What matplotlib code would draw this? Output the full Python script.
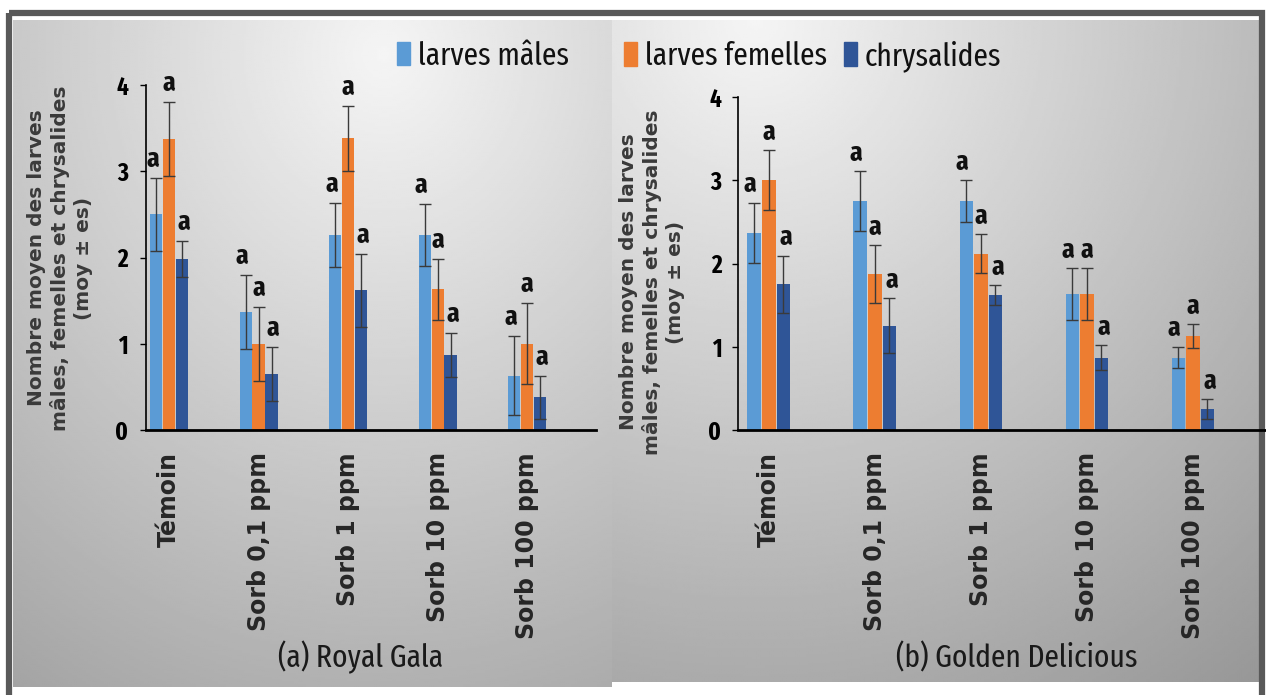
import matplotlib.pyplot as plt
import numpy as np
from matplotlib.patches import Patch, Rectangle

categories = ['Témoin', 'Sorb 0,1 ppm', 'Sorb 1 ppm', 'Sorb 10 ppm', 'Sorb 100 ppm']
series = ['larves mâles', 'larves femelles', 'chrysalides']
colors = ['#5B9BD5', '#ED7D31', '#2F5597']

# (a) Royal Gala
gala_males = [2.50, 1.37, 2.26, 2.26, 0.63]
gala_males_err = [0.42, 0.43, 0.37, 0.36, 0.46]
gala_femelles = [3.37, 1.00, 3.38, 1.63, 1.00]
gala_femelles_err = [0.43, 0.43, 0.38, 0.35, 0.47]
gala_chrys = [1.98, 0.65, 1.62, 0.87, 0.38]
gala_chrys_err = [0.21, 0.31, 0.42, 0.26, 0.25]

# (b) Golden Delicious
golden_males = [2.37, 2.75, 2.75, 1.63, 0.87]
golden_males_err = [0.36, 0.36, 0.25, 0.31, 0.13]
golden_femelles = [3.00, 1.87, 2.12, 1.63, 1.13]
golden_femelles_err = [0.36, 0.35, 0.23, 0.31, 0.14]
golden_chrys = [1.75, 1.25, 1.62, 0.87, 0.25]
golden_chrys_err = [0.34, 0.33, 0.12, 0.15, 0.12]

# statistical group letters
gala_letters = [['a'] * 5, ['a'] * 5, ['a'] * 5]
golden_letters = [['a'] * 5, ['a'] * 5, ['a'] * 5]

ylabel = 'Nombre moyen des larves\nmâles, femelles et chrysalides\n(moy ± es)'
narrow = ['Fira Sans Extra Condensed', 'Fira Sans Condensed', 'DejaVu Sans']

W, H = 1266, 695
fig = plt.figure(figsize=(W / 100, H / 100), dpi=100)

# background: gray gradient panels + frame
bg = fig.add_axes([0, 0, 1, 1])
bg.set_xlim(0, W)
bg.set_ylim(H, 0)
bg.axis('off')


def gradient(x0, x1, y0, y1, fx, fy, top, k):
    xx, yy = np.meshgrid(np.linspace(0, 1, 300), np.linspace(0, 1, 300))
    d = np.sqrt((xx - fx) ** 2 + (yy - fy) ** 2)
    g = np.clip(top - k * d, 0, 1)
    bg.imshow(g, extent=(x0, x1, y1, y0), cmap='gray', vmin=0, vmax=1,
              aspect='auto', interpolation='bilinear', zorder=1)


gradient(13, 612, 20, 687, 0.62, 0.05, 0.96, 0.28)
gradient(612, 1262, 20, 682, 0.22, 0.0, 0.96, 0.29)
bg.add_patch(Rectangle((9, 13), 1253, 700, fill=False, lw=4.5,
                       edgecolor='#595959', zorder=3))


def panel(rect, xlim, width, data, errs, letters, pad_y):
    ax = fig.add_axes(rect)
    ax.patch.set_alpha(0)
    x = np.arange(len(categories))
    offs = [-width, 0, width]
    dxs = [-0.04, 0.0, 0.02]
    for i in range(3):
        ax.bar(x + offs[i], data[i], width * 0.93, color=colors[i], zorder=2)
        ax.errorbar(x + offs[i], data[i], yerr=errs[i], fmt='none',
                    ecolor='#3a3a3a', elinewidth=1, capsize=4, capthick=1,
                    zorder=3)
        for j in range(len(x)):
            ax.text(x[j] + offs[i] + dxs[i], data[i][j] + errs[i][j] + 0.06,
                    letters[i][j], ha='center', va='bottom', fontsize=20,
                    fontweight='bold', family=narrow, color='#111111')
    ax.set_xlim(*xlim)
    ax.set_ylim(0, 4)
    ax.set_yticks([0, 1, 2, 3, 4])
    ax.set_xticks(x)
    ax.set_xticklabels(categories, rotation=90, fontsize=17, fontweight='bold',
                       color='#262626')
    for lab in ax.get_yticklabels():
        lab.set_family(narrow)
        lab.set_fontweight('bold')
        lab.set_fontsize(18)
    ax.tick_params(axis='x', length=0, pad=16)
    ax.tick_params(axis='y', direction='out', length=4, width=1, pad=pad_y)
    for s in ['top', 'right']:
        ax.spines[s].set_visible(False)
    ax.spines['left'].set_linewidth(1.2)
    ax.spines['bottom'].set_linewidth(2)
    return ax


axL = panel([146 / W, 1 - 430 / H, 450 / W, 345 / H], (-0.257, 4.77), 0.145,
            [gala_males, gala_femelles, gala_chrys],
            [gala_males_err, gala_femelles_err, gala_chrys_err],
            gala_letters, 9)
axR = panel([738 / W, 1 - 430 / H, (W - 738) / W, 333 / H], (-0.29, 4.69), 0.137,
            [golden_males, golden_femelles, golden_chrys],
            [golden_males_err, golden_femelles_err, golden_chrys_err],
            golden_letters, 8)

# y labels
for xc, yc in [(60, 258), (652, 282)]:
    fig.text(xc / W, 1 - yc / H, ylabel, rotation=90, ha='center', va='center',
             multialignment='center', fontsize=14.5, fontweight='bold',
             color='#3a3a3a', linespacing=1.25)

# panel titles
fig.text(361 / W, 1 - 657 / H, '(a) Royal Gala', ha='center', va='center',
         fontsize=23, family=narrow, color='#1a1a1a')
fig.text(1017 / W, 1 - 658 / H, '(b) Golden Delicious', ha='center', va='center',
         fontsize=23, family=narrow, color='#1a1a1a')

# legends
h = [Patch(color=c) for c in colors]
lprop = dict(family=narrow, size=23)
legL = fig.legend(h[:1], series[:1], loc='center left',
                  bbox_to_anchor=(397 / W, 1 - 56 / H), frameon=False,
                  prop=lprop, handlelength=0.42, handleheight=0.75,
                  handletextpad=0.25, borderpad=0, borderaxespad=0)
legR = fig.legend(h[1:], series[1:], loc='center left', ncol=2,
                  bbox_to_anchor=(624 / W, 1 - 56 / H), frameon=False,
                  prop=lprop, handlelength=0.42, handleheight=0.75,
                  handletextpad=0.25, columnspacing=0.5,
                  borderpad=0, borderaxespad=0)
for t in legL.get_texts() + legR.get_texts():
    t.set_color('#111111')

fig.savefig('out.png', dpi=100)
